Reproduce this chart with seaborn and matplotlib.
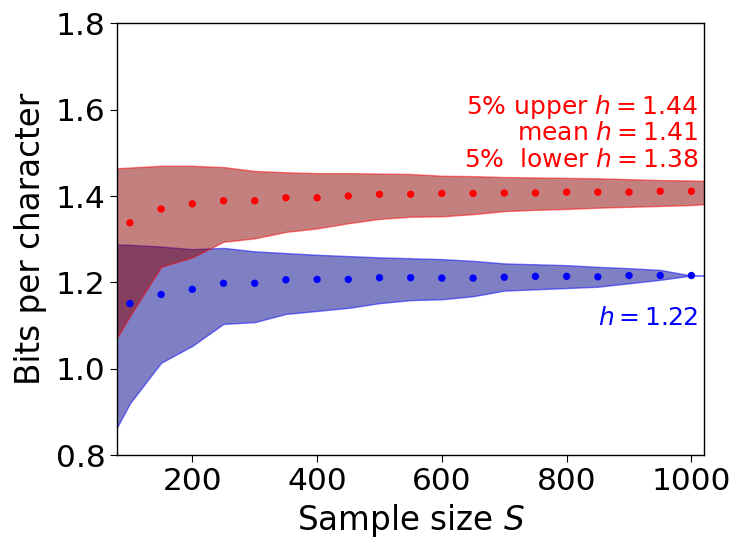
import numpy as np
import pandas as pd
import matplotlib
matplotlib.use("Agg")
import matplotlib.pyplot as plt
import seaborn as sns

# Data
S_points = [100, 150, 200, 250, 300, 350, 400, 450, 500, 550,
            600, 650, 700, 750, 800, 850, 900, 950, 1000]
red_mean = [1.338, 1.370, 1.382, 1.389, 1.389, 1.396, 1.396, 1.400, 1.404, 1.404,
            1.406, 1.406, 1.407, 1.407, 1.409, 1.409, 1.409, 1.411, 1.411]
blue_mean = [1.151, 1.172, 1.184, 1.198, 1.198, 1.206, 1.207, 1.207, 1.211, 1.211,
             1.210, 1.210, 1.212, 1.214, 1.214, 1.213, 1.216, 1.216, 1.216]

S_band = [50, 100, 150, 200, 250, 300, 350, 400, 450, 500, 550,
          600, 650, 700, 750, 800, 850, 900, 950, 1000, 1050]
red_upper = [1.462, 1.466, 1.470, 1.470, 1.467, 1.458, 1.455, 1.453, 1.453, 1.452, 1.451,
             1.447, 1.446, 1.444, 1.443, 1.442, 1.441, 1.439, 1.437, 1.436, 1.434]
red_lower = [1.002, 1.122, 1.236, 1.258, 1.294, 1.302, 1.317, 1.325, 1.337, 1.347, 1.352,
             1.353, 1.358, 1.365, 1.368, 1.370, 1.373, 1.375, 1.377, 1.379, 1.384]
blue_upper = [1.289, 1.287, 1.283, 1.277, 1.280, 1.272, 1.268, 1.264, 1.261, 1.258, 1.256,
              1.254, 1.250, 1.244, 1.242, 1.240, 1.236, 1.233, 1.229, 1.216, 1.216]
blue_lower = [0.785, 0.920, 1.014, 1.053, 1.104, 1.108, 1.127, 1.134, 1.141, 1.152, 1.159,
              1.161, 1.168, 1.181, 1.184, 1.187, 1.190, 1.198, 1.206, 1.216, 1.216]

x_ticks = [200, 400, 600, 800, 1000]
y_ticks = [0.8, 1.0, 1.2, 1.4, 1.6, 1.8]

red_labels = ["5% upper $h = 1.44$", "mean $h = 1.41$", "5%  lower $h = 1.38$"]
blue_label = "$h = 1.22$"

sns.set_style("ticks")
plt.rcParams['font.family'] = ['DejaVu Sans']

fig = plt.figure(figsize=(7.34, 5.40), dpi=100)
ax = fig.add_axes([0.16, 0.157, 0.799, 0.8])

ax.fill_between(S_band, blue_lower, blue_upper, facecolor='darkblue', alpha=0.5,
                edgecolor='blue', linewidth=1)
ax.fill_between(S_band, red_lower, red_upper, facecolor='darkred', alpha=0.5,
                edgecolor='red', linewidth=1)

df = pd.DataFrame({"S": S_points * 2,
                   "h": red_mean + blue_mean,
                   "series": ["red"] * len(S_points) + ["blue"] * len(S_points)})
sns.scatterplot(data=df, x="S", y="h", hue="series",
                palette={"red": "red", "blue": "blue"}, s=28, linewidth=0,
                legend=False, ax=ax, zorder=3)

ax.set_xlim(80, 1020)
ax.set_ylim(0.8, 1.8)
ax.set_xticks(x_ticks)
ax.set_yticks(y_ticks)
ax.tick_params(labelsize=22.5, length=5, color='black', labelcolor='black')
for sp in ax.spines.values():
    sp.set_color('black')
    sp.set_linewidth(1)
ax.set_xlabel("Sample size $S$", fontsize=23.5, color='black', labelpad=4)
ax.set_ylabel("Bits per character", fontsize=23.5, color='black', labelpad=6)

for lab, yf in zip(red_labels, [0.790, 0.730, 0.667]):
    ax.text(0.99, yf, lab, transform=ax.transAxes, ha='right', va='baseline',
            fontsize=18, color='red')
ax.text(0.99, 0.301, blue_label, transform=ax.transAxes, ha='right', va='baseline',
        fontsize=18, color='blue')

fig.savefig("out.png", dpi=100)
